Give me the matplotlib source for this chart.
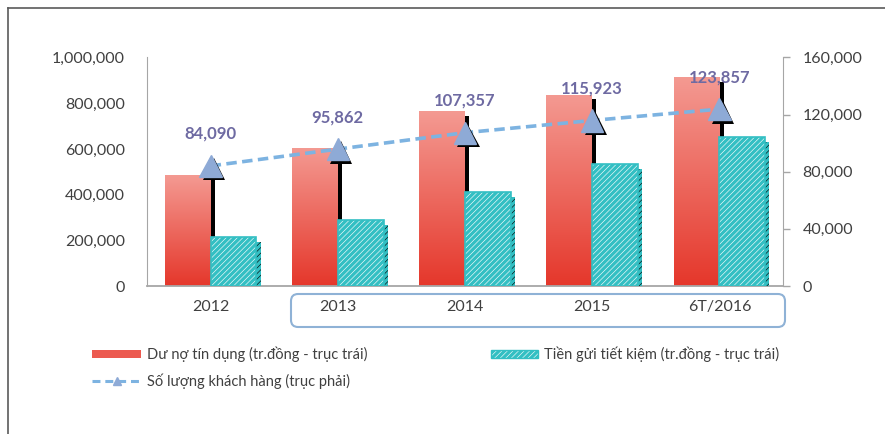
import numpy as np
import matplotlib
matplotlib.use("Agg")
import matplotlib.pyplot as plt
import matplotlib.patheffects as pe
from matplotlib.patches import Rectangle, FancyBboxPatch
from matplotlib.lines import Line2D
from matplotlib.colors import LinearSegmentedColormap
from matplotlib.ticker import FuncFormatter

plt.rcParams['font.family'] = ['Lato', 'DejaVu Sans']
plt.rcParams['hatch.linewidth'] = 2.4

# data
categories = ["2012", "2013", "2014", "2015", "6T/2016"]
du_no = [485000, 605000, 765000, 838000, 915000]        # left axis
tien_gui = [215000, 290000, 410000, 535000, 653000]     # left axis
khach_hang = [84090, 95862, 107357, 115923, 123857]     # right axis

label_du_no = "Dư nợ tín dụng (tr.đồng - trục trái)"
label_tien_gui = "Tiền gửi tiết kiệm (tr.đồng - trục trái)"
label_khach = "Số lượng khách hàng (trục phải)"

W, H = 885, 434
fig = plt.figure(figsize=(W / 100, H / 100), dpi=100)
fig.patch.set_facecolor("white")

def px(x0, y0, x1, y1):
    # pixel box (top-left origin) -> figure fraction rect
    return [x0 / W, 1 - y1 / H, (x1 - x0) / W, (y1 - y0) / H]

ax = fig.add_axes(px(147, 57.5, 783, 286))
ax2 = ax.twinx()

grey = "#a6a6a6"
txt = "#404040"
red_top, red_bot = "#f49a92", "#e5372b"
teal = "#33bfc3"

x = np.arange(len(categories))
bw = 0.36

bar_shadow = [pe.SimplePatchShadow(offset=(3, -3.5), shadow_rgbFace="k", alpha=1), pe.Normal()]
bars_red = ax.bar(x - bw / 2, du_no, bw, color=red_bot, linewidth=0, zorder=2,
                  path_effects=bar_shadow)

# vertical gradient inside each red bar
cmap = LinearSegmentedColormap.from_list("redgrad", [red_bot, red_top])
grad = np.linspace(1, 0, 256).reshape(-1, 1)
for b in bars_red:
    im = ax.imshow(grad, cmap=cmap, aspect="auto", zorder=2.1,
                   extent=[b.get_x(), b.get_x() + b.get_width(), 0, b.get_height()])
    im.set_clip_path(b)

ax.bar(x + bw / 2, tien_gui, bw, color="white", edgecolor=teal, hatch="//////",
       linewidth=1.2, zorder=3, path_effects=bar_shadow)

ax.set_xlim(-0.5, len(categories) - 0.5)
ax.set_ylim(0, 1000000)
ax.set_yticks(np.arange(0, 1000001, 200000))
ax.yaxis.set_major_formatter(FuncFormatter(lambda v, p: f"{int(v):,}"))
ax.tick_params(axis="y", length=0, pad=16, labelsize=11.5, labelcolor=txt)
ax.set_xticks(x)
ax.set_xticklabels(categories)
ax.tick_params(axis="x", length=0, pad=10, labelsize=11.5, labelcolor=txt)
for s in ["top", "right"]:
    ax.spines[s].set_visible(False)
ax.spines["left"].set_color(grey)
ax.spines["bottom"].set_color(grey)
ax.spines["bottom"].set_linewidth(1.3)

# customer count on the right axis
ax2.plot(x, khach_hang, color="#7db3e1", lw=2.6, dashes=(2.9, 1.5), zorder=4)
ax2.plot(x, khach_hang, linestyle="none", marker="^", markersize=16,
         markerfacecolor="#8eaad6", markeredgecolor="#8eaad6", zorder=5,
         path_effects=[pe.SimplePatchShadow(offset=(2.5, -2.5), shadow_rgbFace="k", alpha=1),
                       pe.Normal()])
for xi, v in zip(x, khach_hang):
    ax2.annotate(f"{v:,}", (xi, v), xytext=(0, 23), textcoords="offset points",
                 ha="center", va="center", fontsize=12, fontweight="bold",
                 color="#6e6aa2", zorder=6)
ax2.set_ylim(0, 160000)
ax2.set_yticks(np.arange(0, 160001, 40000))
ax2.yaxis.set_major_formatter(FuncFormatter(lambda v, p: f"{int(v):,}"))
ax2.tick_params(axis="y", length=5, width=1, color=grey, pad=9, labelsize=11.5, labelcolor=txt)
for s in ["top", "left", "bottom"]:
    ax2.spines[s].set_visible(False)
ax2.spines["right"].set_color(grey)
ax.set_zorder(ax2.get_zorder() - 1)
ax.patch.set_visible(False)

# rounded box round the later categories
fig.add_artist(FancyBboxPatch((291 / W, 1 - 327 / H), (785 - 291) / W, (327 - 294) / H,
                              boxstyle="round,pad=0,rounding_size=0.008",
                              transform=fig.transFigure, facecolor="none",
                              edgecolor="#8fb2d6", linewidth=1.5, mutation_aspect=W / H))

# legend
def fy(y):
    return 1 - y / H

fig.add_artist(Rectangle((92 / W, fy(358)), 49 / W, 8 / H, transform=fig.transFigure,
                         facecolor="#ec5a50", edgecolor="none"))
fig.text(147 / W, fy(354), label_du_no, fontsize=10.5, color=txt, va="center")
fig.add_artist(Rectangle((491 / W, fy(358)), 47 / W, 8 / H, transform=fig.transFigure,
                         facecolor="white", edgecolor=teal, hatch="//////", linewidth=1))
fig.text(544 / W, fy(354), label_tien_gui, fontsize=10.5, color=txt, va="center")
fig.add_artist(Line2D([92 / W, 141 / W], [fy(381), fy(381)], transform=fig.transFigure,
                      color="#7db3e1", lw=2.2, dashes=(2.6, 1.6)))
fig.add_artist(Line2D([116.5 / W], [fy(381)], transform=fig.transFigure, marker="^",
                      markersize=6, color="#8eaad6", linestyle="none"))
fig.text(147 / W, fy(381), label_khach, fontsize=10.5, color=txt, va="center")

# outer frame
fig.add_artist(Line2D([8 / W, 1], [fy(8), fy(8)], transform=fig.transFigure,
                      color="#5a5a5a", lw=1.2))
fig.add_artist(Line2D([8 / W, 8 / W], [0, fy(8)], transform=fig.transFigure,
                      color="#5a5a5a", lw=1.2))

fig.savefig("out.png", dpi=100)
